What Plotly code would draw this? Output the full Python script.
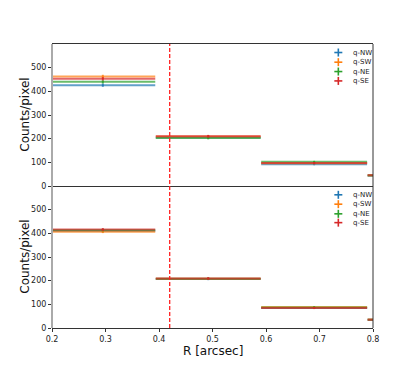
import plotly.graph_objects as go
from plotly.subplots import make_subplots

# radial bins
r_center = [0.295, 0.492, 0.69, 0.889]
r_halfwidth = [0.098, 0.098, 0.099, 0.099]

quadrants = ["q-NW", "q-SW", "q-NE", "q-SE"]
colors = ["31,119,180", "255,127,14", "44,160,44", "214,39,40"]

# top panel
top_nw = [426, 205, 92, 44]
top_sw = [463, 209, 96, 45]
top_ne = [440, 203, 102, 44]
top_se = [453, 210, 97, 45]
top_err = [7, 6, 4, 3]

# bottom panel
bot_nw = [410, 207, 85, 35]
bot_sw = [407, 208, 89, 36]
bot_ne = [414, 208, 87, 35]
bot_se = [416, 209, 84, 35]
bot_err = [6, 5, 4, 3]

r_cut = 0.42

fig = make_subplots(rows=2, cols=1, shared_xaxes=True, vertical_spacing=0)

panels = [(1, [top_nw, top_sw, top_ne, top_se], top_err),
          (2, [bot_nw, bot_sw, bot_ne, bot_se], bot_err)]

for row, series, err in panels:
    for name, col, ys in zip(quadrants, colors, series):
        c = f"rgba({col},0.7)"
        fig.add_trace(go.Scatter(
            x=r_center, y=ys, mode="markers", name=name, showlegend=False,
            marker=dict(size=2, color=c),
            error_x=dict(type="data", array=r_halfwidth, width=0,
                         thickness=2, color=c),
            error_y=dict(type="data", array=err, width=0,
                         thickness=2, color=c),
        ), row=row, col=1)

# dashed cut line across both panels
fig.add_shape(type="line", xref="x", yref="paper", x0=r_cut, x1=r_cut, y0=0, y1=1,
              line=dict(color="#ff2020", width=1.3, dash="4px,2px"))

for row in (1, 2):
    yref = "y domain" if row == 1 else "y2 domain"
    xref = "x domain" if row == 1 else "x2 domain"
    fig.add_shape(type="line", xref=xref, yref=yref, x0=1, x1=1, y0=0, y1=1,
                  line=dict(color="#333333", width=1))
    fig.add_shape(type="line", xref=xref, yref=yref, x0=0, x1=0, y0=0, y1=1,
                  line=dict(color="#aaaaaa", width=2))

# hand-drawn legends (matplotlib-like compact spacing)
leg_rows = {1: [0.970, 0.936, 0.903, 0.870], 2: [0.469, 0.436, 0.402, 0.371]}
for row, ys in leg_rows.items():
    for name, col, yy in zip(quadrants, colors, ys):
        c = f"rgb({col})"
        for dx, dy in ((4, 0), (0, 4)):
            fig.add_shape(type="line", xref="paper", yref="paper",
                          xsizemode="pixel", ysizemode="pixel",
                          xanchor=0.892, yanchor=yy,
                          x0=-dx, x1=dx, y0=-dy, y1=dy,
                          line=dict(color=c, width=1.6))
        fig.add_annotation(x=0.93, y=yy, xref="paper", yref="paper",
                           text=name, showarrow=False, xanchor="left",
                           yanchor="middle", font=dict(size=7, color="#222222"))

# axis titles as annotations for exact placement
titlefont = dict(size=12, color="#111111")
for yy in (0.75, 0.25):
    fig.add_annotation(x=-0.085, y=yy, xref="paper", yref="paper",
                       text="Counts/pixel", textangle=-90, showarrow=False,
                       xanchor="center", yanchor="middle", font=titlefont)
fig.add_annotation(x=0.5, y=-0.08, xref="paper", yref="paper",
                   text="R [arcsec]", showarrow=False,
                   xanchor="center", yanchor="middle", font=titlefont)

tickfont = dict(size=8, color="#222222")
fig.update_xaxes(range=[0.2, 0.8], dtick=0.1, tickformat=".1f", automargin=False,
                 showline=True, linecolor="#333333", linewidth=1, mirror=True,
                 ticks="outside", ticklen=3, tickcolor="#333333",
                 showgrid=False, zeroline=False, tickfont=tickfont)
fig.update_xaxes(showticklabels=False, ticks="", row=1, col=1)
fig.update_xaxes(mirror=False, row=2, col=1)
fig.update_yaxes(range=[0, 600], tickvals=[0, 100, 200, 300, 400, 500],
                 automargin=False,
                 showline=False, ticks="outside", ticklen=3, tickcolor="#333333",
                 showgrid=False, zeroline=False, tickfont=tickfont)

# page body adds an 8px offset, so margins are shifted to compensate
fig.update_layout(
    width=415, height=369,
    margin=dict(l=44, r=50, t=36, b=49),
    paper_bgcolor="white", plot_bgcolor="white",
    font=dict(family="DejaVu Sans"),
)

fig.write_html("out.html")
